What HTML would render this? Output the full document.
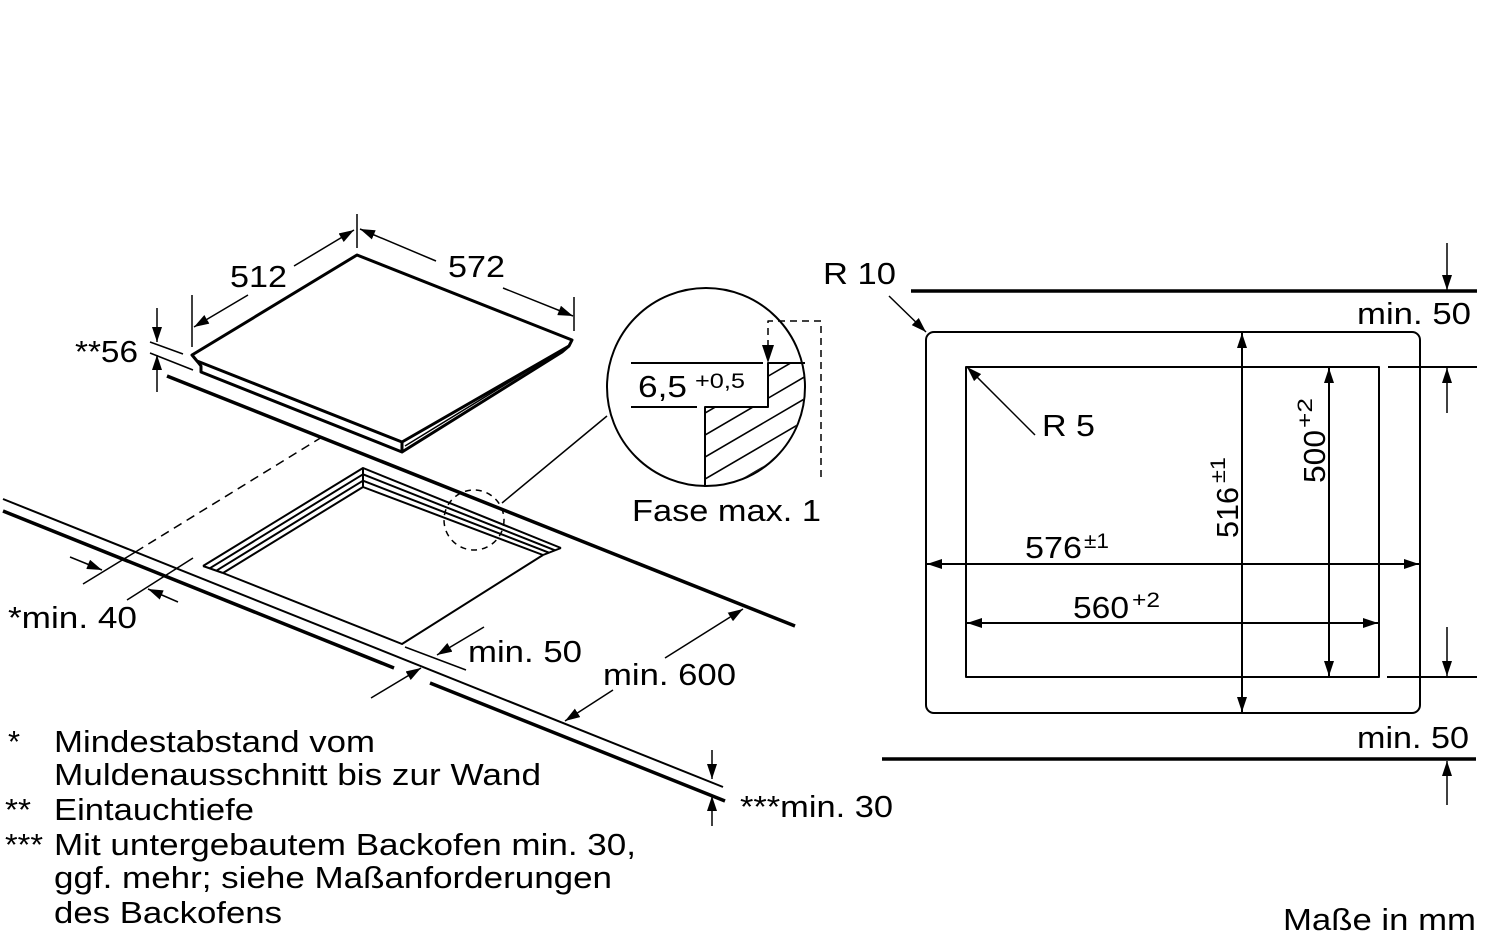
<!DOCTYPE html>
<html>
<head>
<meta charset="utf-8">
<style>
  html,body{margin:0;padding:0;background:#fff;}
  svg{display:block;}
  text{font-family:"Liberation Sans",Arial,sans-serif;fill:#000;}
</style>
</head>
<body>
<svg width="1500" height="935" viewBox="0 0 1500 935" xmlns="http://www.w3.org/2000/svg">
  <defs>
    <marker id="ah" viewBox="0 0 15 10" refX="15" refY="5" markerWidth="15" markerHeight="10" markerUnits="userSpaceOnUse" orient="auto-start-reverse">
      <path d="M0,0 L15,5 L0,10 z" fill="#000"/>
    </marker>
    <clipPath id="circ"><circle cx="706" cy="387" r="98"/></clipPath>
    <clipPath id="hatchpoly"><polygon points="705,407 768,407 768,363 812,363 812,495 705,495"/></clipPath>
  </defs>
  <rect width="1500" height="935" fill="#fff"/>

  <g stroke="#000" fill="none" stroke-linecap="butt" stroke-linejoin="round">
    <!-- ===== Hob ===== -->
    <polygon points="192,355 357,255 572,340 569,346 402,442 197,361" stroke-width="3" fill="#fff"/>
    <path d="M197,361 L201,366 L201,372 L402,452 L402,442" stroke-width="3"/>
    <path d="M402,452 L562,352 L569,346" stroke-width="3"/>
    <path d="M405,446 L565,348" stroke-width="1.5"/>

    <!-- 512 dimension -->
    <line x1="192" y1="295" x2="192" y2="347" stroke-width="1.5"/>
    <line x1="248" y1="295" x2="194" y2="327" stroke-width="1.5" marker-end="url(#ah)"/>
    <line x1="294" y1="266" x2="354" y2="230" stroke-width="1.5" marker-end="url(#ah)"/>
    <line x1="357" y1="214" x2="357" y2="248" stroke-width="1.5"/>
    <!-- 572 dimension -->
    <line x1="436" y1="261" x2="360" y2="229" stroke-width="1.5" marker-end="url(#ah)"/>
    <line x1="503" y1="288" x2="573" y2="316" stroke-width="1.5" marker-end="url(#ah)"/>
    <line x1="574" y1="297" x2="574" y2="331" stroke-width="1.5"/>

    <!-- 56 dimension -->
    <line x1="150" y1="342" x2="183" y2="354" stroke-width="1.5"/>
    <line x1="150" y1="353" x2="193" y2="370" stroke-width="1.5"/>
    <line x1="157" y1="308" x2="157" y2="342" stroke-width="1.5" marker-end="url(#ah)"/>
    <line x1="157" y1="392" x2="157" y2="355" stroke-width="1.5" marker-end="url(#ah)"/>

    <!-- ===== Worktop ===== -->
    <line x1="167" y1="376" x2="795" y2="626" stroke-width="3.5"/>
    <line x1="3" y1="499" x2="723" y2="787" stroke-width="2"/>
    <line x1="3" y1="511" x2="394" y2="668" stroke-width="3.5"/>
    <line x1="430" y1="683" x2="725" y2="801" stroke-width="3.5"/>

    <!-- dashed projection line -->
    <line x1="322" y1="437" x2="137" y2="551" stroke-width="1.5" stroke-dasharray="9,6"/>
    <line x1="137" y1="551" x2="83" y2="584" stroke-width="1.5"/>
    <!-- min 40 -->
    <line x1="70" y1="557" x2="102" y2="570" stroke-width="1.5" marker-end="url(#ah)"/>
    <line x1="127" y1="600" x2="193" y2="558" stroke-width="1.5"/>
    <line x1="178" y1="602" x2="148" y2="589" stroke-width="1.5" marker-end="url(#ah)"/>

    <!-- ===== Cutout ===== -->
    <g stroke-width="2">
      <polyline points="203,566 363,468 561,548"/>
      <polyline points="209.7,568.3 363,474.3 555,550.3"/>
      <polyline points="216.3,570.7 363,480.7 549,552.7"/>
      <polyline points="223,573 363,487 543,555"/>
      <line x1="203" y1="566" x2="223" y2="573"/>
      <line x1="561" y1="548" x2="543" y2="555"/>
      <line x1="363" y1="468" x2="363" y2="487"/>
      <polyline points="223,573 402,644 543,555"/>
    </g>
    <line x1="405" y1="647" x2="466" y2="670" stroke-width="1.5"/>
    <!-- min 50 arrows -->
    <line x1="484" y1="627" x2="437" y2="655" stroke-width="1.5" marker-end="url(#ah)"/>
    <line x1="371" y1="698" x2="421" y2="668" stroke-width="1.5" marker-end="url(#ah)"/>
    <!-- min 600 arrows -->
    <line x1="665" y1="658" x2="743" y2="609" stroke-width="1.5" marker-end="url(#ah)"/>
    <line x1="613" y1="690" x2="565" y2="721" stroke-width="1.5" marker-end="url(#ah)"/>
    <!-- min 30 arrows -->
    <line x1="712" y1="750" x2="712" y2="779" stroke-width="1.5" marker-end="url(#ah)"/>
    <line x1="712" y1="826" x2="712" y2="796" stroke-width="1.5" marker-end="url(#ah)"/>

    <!-- dashed circle + leader -->
    <circle cx="474" cy="520" r="30" stroke-width="1.5" stroke-dasharray="6,5"/>
    <line x1="502" y1="503" x2="607" y2="416" stroke-width="1.5"/>

    <!-- ===== Detail circle ===== -->
    <circle cx="706" cy="387" r="99" stroke-width="2" fill="#fff"/>
    <g clip-path="url(#circ)">
      <g clip-path="url(#hatchpoly)" stroke-width="1.6">
        <line x1="700" y1="394" x2="830" y2="318"/>
        <line x1="700" y1="416" x2="830" y2="340"/>
        <line x1="700" y1="438" x2="830" y2="362"/>
        <line x1="700" y1="460" x2="830" y2="384"/>
        <line x1="700" y1="482" x2="830" y2="406"/>
        <line x1="700" y1="504" x2="830" y2="428"/>
        <line x1="700" y1="526" x2="830" y2="450"/>
        <line x1="700" y1="548" x2="830" y2="472"/>
      </g>
    </g>
    <line x1="631" y1="363" x2="763" y2="363" stroke-width="2"/>
    <line x1="631" y1="407" x2="697" y2="407" stroke-width="2"/>
    <polyline points="705,487 705,407 768,407 768,363 805,363" stroke-width="2"/>
    <path d="M768,347 L768,321 L821,321 L821,482" stroke-width="1.5" stroke-dasharray="7,5"/>
    <polygon points="762,345 774,345 768,363" fill="#000" stroke="none"/>

    <!-- ===== Right diagram ===== -->
    <line x1="911" y1="291" x2="1477" y2="291" stroke-width="3.5"/>
    <line x1="1447" y1="243" x2="1447" y2="290" stroke-width="1.5" marker-end="url(#ah)"/>
    <rect x="926" y="332" width="494" height="381" rx="8" ry="8" stroke-width="2"/>
    <rect x="966" y="367" width="413" height="310" stroke-width="2"/>
    <line x1="1388" y1="367" x2="1477" y2="367" stroke-width="2"/>
    <line x1="1447" y1="413" x2="1447" y2="368" stroke-width="1.5" marker-end="url(#ah)"/>
    <line x1="1387" y1="677" x2="1477" y2="677" stroke-width="2"/>
    <line x1="1447" y1="627" x2="1447" y2="676" stroke-width="1.5" marker-end="url(#ah)"/>
    <line x1="882" y1="759" x2="1476" y2="759" stroke-width="3.5"/>
    <line x1="1447" y1="805" x2="1447" y2="761" stroke-width="1.5" marker-end="url(#ah)"/>

    <line x1="1242" y1="333" x2="1242" y2="712" stroke-width="2" marker-start="url(#ah)" marker-end="url(#ah)"/>
    <line x1="1329" y1="368" x2="1329" y2="676" stroke-width="2" marker-start="url(#ah)" marker-end="url(#ah)"/>
    <line x1="927" y1="564" x2="1419" y2="564" stroke-width="2" marker-start="url(#ah)" marker-end="url(#ah)"/>
    <line x1="967" y1="623" x2="1378" y2="623" stroke-width="2" marker-start="url(#ah)" marker-end="url(#ah)"/>

    <line x1="889" y1="296" x2="926" y2="332" stroke-width="1.5" marker-end="url(#ah)"/>
    <line x1="1035" y1="435" x2="967" y2="367" stroke-width="1.5" marker-end="url(#ah)"/>
  </g>

  <!-- ===== Text ===== -->
  <g font-size="31">
    <text x="230" y="287" textLength="57" lengthAdjust="spacingAndGlyphs">512</text>
    <text x="448" y="277" textLength="57" lengthAdjust="spacingAndGlyphs">572</text>
    <text x="75" y="362" textLength="63" lengthAdjust="spacingAndGlyphs">**56</text>
    <text x="638" y="397" textLength="49" lengthAdjust="spacingAndGlyphs">6,5</text>
    <text x="695" y="388" font-size="21" textLength="50" lengthAdjust="spacingAndGlyphs">+0,5</text>
    <text x="632" y="521" textLength="189" lengthAdjust="spacingAndGlyphs">Fase max. 1</text>
    <text x="8" y="628" textLength="129" lengthAdjust="spacingAndGlyphs">*min. 40</text>
    <text x="468" y="662" textLength="114" lengthAdjust="spacingAndGlyphs">min. 50</text>
    <text x="603" y="685" textLength="133" lengthAdjust="spacingAndGlyphs">min. 600</text>
    <text x="740" y="817" textLength="153" lengthAdjust="spacingAndGlyphs">***min. 30</text>

    <text x="8" y="752">*</text>
    <text x="54" y="752" textLength="321" lengthAdjust="spacingAndGlyphs">Mindestabstand vom</text>
    <text x="54" y="785" textLength="487" lengthAdjust="spacingAndGlyphs">Muldenausschnitt bis zur Wand</text>
    <text x="5" y="820" textLength="26" lengthAdjust="spacingAndGlyphs">**</text>
    <text x="54" y="820" textLength="200" lengthAdjust="spacingAndGlyphs">Eintauchtiefe</text>
    <text x="5" y="855" textLength="38" lengthAdjust="spacingAndGlyphs">***</text>
    <text x="54" y="855" textLength="582" lengthAdjust="spacingAndGlyphs">Mit untergebautem Backofen min. 30,</text>
    <text x="54" y="888" textLength="558" lengthAdjust="spacingAndGlyphs">ggf. mehr; siehe Maßanforderungen</text>
    <text x="54" y="923" textLength="228" lengthAdjust="spacingAndGlyphs">des Backofens</text>

    <text x="823" y="284" textLength="73" lengthAdjust="spacingAndGlyphs">R 10</text>
    <text x="1357" y="324" textLength="114" lengthAdjust="spacingAndGlyphs">min. 50</text>
    <text x="1042" y="436" textLength="53" lengthAdjust="spacingAndGlyphs">R 5</text>
    <text x="1025" y="558" textLength="57" lengthAdjust="spacingAndGlyphs">576</text>
    <text x="1084" y="548" font-size="21" textLength="25" lengthAdjust="spacingAndGlyphs">±1</text>
    <text x="1073" y="618" textLength="56" lengthAdjust="spacingAndGlyphs">560</text>
    <text x="1132" y="607" font-size="21" textLength="28" lengthAdjust="spacingAndGlyphs">+2</text>
    <g transform="translate(1238,538) rotate(-90)">
      <text x="0" y="0" textLength="51" lengthAdjust="spacingAndGlyphs">516</text>
      <text x="55" y="-13" font-size="21" textLength="26" lengthAdjust="spacingAndGlyphs">±1</text>
    </g>
    <g transform="translate(1325,483) rotate(-90)">
      <text x="0" y="0" textLength="53" lengthAdjust="spacingAndGlyphs">500</text>
      <text x="55" y="-13" font-size="21" textLength="30" lengthAdjust="spacingAndGlyphs">+2</text>
    </g>
    <text x="1357" y="748" textLength="112" lengthAdjust="spacingAndGlyphs">min. 50</text>
    <text x="1283" y="930" textLength="193" lengthAdjust="spacingAndGlyphs">Maße in mm</text>
  </g>
</svg>
</body>
</html>
